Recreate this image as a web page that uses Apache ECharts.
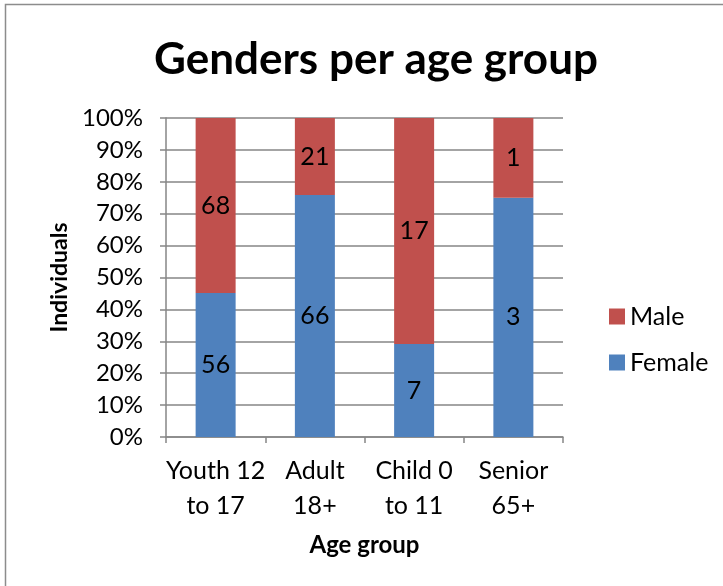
<!DOCTYPE html>
<html>
<head>
<meta charset="utf-8">
<script src="https://cdn.jsdelivr.net/npm/echarts@6/dist/echarts.min.js"></script>
<style>
html,body{margin:0;padding:0;background:#fff;}
#c{width:723px;height:586px;}
</style>
</head>
<body>
<div id="c"></div>
<script>
const categories = ['Youth 12\nto 17', 'Adult\n18+', 'Child 0\nto 11', 'Senior\n65+'];
const female = [56, 66, 7, 3];
const male = [68, 21, 17, 1];
const yTicks = [0, 10, 20, 30, 40, 50, 60, 70, 80, 90, 100];

const totals = female.map((f, i) => f + male[i]);
const femalePct = female.map((f, i) => ({ value: f / totals[i] * 100, raw: f }));
const malePct = male.map((m, i) => ({ value: m / totals[i] * 100, raw: m }));

const FONT = 'Lato';
const chart = echarts.init(document.getElementById('c'), null, { renderer: 'canvas' });
chart.setOption({
  animation: false,
  backgroundColor: '#fff',
  textStyle: { fontFamily: FONT },
  graphic: [{
    type: 'rect', shape: { x: 5.5, y: 4.5, width: 730, height: 600 },
    style: { fill: 'none', stroke: '#8c8c8c', lineWidth: 1.5 }, silent: true, z: -1
  }],
  title: {
    text: 'Genders per age group', left: 371, textAlign: 'center', top: 33,
    textStyle: { fontFamily: FONT, fontWeight: 'bold', fontSize: 44, color: '#000' }
  },
  legend: {
    orient: 'vertical', left: 604, top: 299, itemGap: 21,
    itemWidth: 16, itemHeight: 16, icon: 'rect',
    data: ['Male', 'Female'],
    textStyle: { fontFamily: FONT, fontSize: 25, color: '#000' }
  },
  grid: { left: 166, right: 160, top: 118, bottom: 149 },
  xAxis: {
    type: 'category', data: categories,
    name: 'Age group', nameLocation: 'middle', nameGap: 96,
    nameTextStyle: { fontFamily: FONT, fontWeight: 'bold', fontSize: 24, color: '#000' },
    axisLine: { lineStyle: { color: '#868686', width: 1.5 } },
    axisTick: { show: true, length: 6, lineStyle: { color: '#868686', width: 1.5 } },
    axisLabel: { interval: 0, fontFamily: FONT, fontSize: 25, color: '#000', lineHeight: 35, margin: 16 }
  },
  yAxis: {
    type: 'value', min: 0, max: 100, interval: 10,
    name: 'Individuals', nameLocation: 'middle', nameGap: 91, nameRotate: 90,
    nameTextStyle: { fontFamily: FONT, fontWeight: 'bold', fontSize: 23, color: '#000' },
    axisLine: { show: true, lineStyle: { color: '#868686', width: 1.5 } },
    axisTick: { show: true, length: 6, lineStyle: { color: '#868686', width: 1.5 } },
    splitLine: { lineStyle: { color: '#868686', width: 1.5 } },
    axisLabel: {
      fontFamily: FONT, fontSize: 24, color: '#000', margin: 23,
      formatter: v => (yTicks.includes(v) ? v + '%' : '')
    }
  },
  series: [
    {
      name: 'Female', type: 'bar', stack: 'g', data: femalePct, barWidth: 40,
      itemStyle: { color: '#4F81BD' },
      label: { show: true, position: 'inside', fontFamily: FONT, fontSize: 25, color: '#000',
        formatter: p => p.data.raw }
    },
    {
      name: 'Male', type: 'bar', stack: 'g', data: malePct, barWidth: 40,
      itemStyle: { color: '#C0504D' },
      label: { show: true, position: 'inside', fontFamily: FONT, fontSize: 25, color: '#000',
        formatter: p => p.data.raw }
    }
  ]
});
</script>
</body>
</html>
